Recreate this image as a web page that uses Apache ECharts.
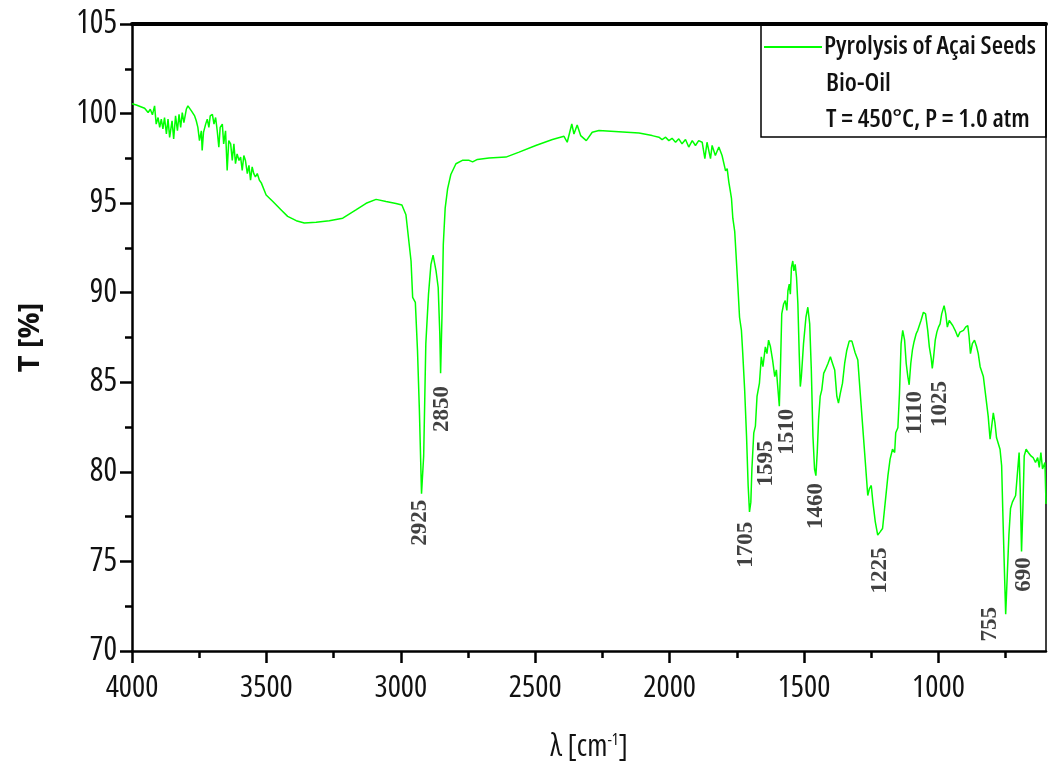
<!DOCTYPE html>
<html><head><meta charset="utf-8">
<script src="https://cdn.jsdelivr.net/npm/echarts@6/dist/echarts.min.js"></script>
<style>html,body{margin:0;padding:0;background:#fff}#c{width:1050px;height:767px}</style>
</head><body><div id="c"></div>
<script>
// FTIR spectrum: [wavenumber (cm-1), transmittance (%)]
const spectrum = [
[4000,100.55],[3984,100.48],[3965,100.37],[3953,100.30],[3940,100.06],[3932,100.24],[3924,99.93],[3916,100.43],[3910,99.41],[3903,99.78],[3897,99.23],[3891,99.69],[3885,99.14],[3879,99.78],[3872,98.86],[3866,99.69],[3860,98.67],[3851,99.60],[3845,98.58],[3838,99.87],[3831,99.04],[3825,99.96],[3819,99.23],[3813,100.06],[3807,99.50],[3798,100.24],[3792,100.43],[3786,100.33],[3779,100.15],[3773,100.24],[3767,99.87],[3761,99.60],[3755,99.23],[3749,98.49],[3742,99.04],[3739,97.94],[3734,98.95],[3726,99.41],[3720,99.69],[3714,99.23],[3709,99.87],[3701,99.96],[3695,99.41],[3689,99.78],[3683,99.04],[3677,98.12],[3672,99.23],[3664,99.41],[3659,98.31],[3652,99.04],[3646,96.83],[3640,98.49],[3633,98.31],[3627,97.38],[3621,98.31],[3615,97.20],[3609,97.75],[3602,97.38],[3596,97.57],[3590,96.83],[3584,97.66],[3578,97.38],[3571,96.65],[3565,97.11],[3559,96.28],[3553,97.02],[3547,96.65],[3541,96.46],[3534,96.65],[3526,96.28],[3519,96.13],[3501,95.45],[3476,95.09],[3445,94.62],[3421,94.26],[3389,94.02],[3359,93.89],[3315,93.94],[3266,94.02],[3216,94.16],[3167,94.62],[3129,94.99],[3092,95.21],[3055,95.09],[3018,94.98],[2996,94.9],[2981,94.35],[2962,91.77],[2956,89.74],[2946,89.46],[2938,86.79],[2931,83.47],[2923,78.78],[2915,80.89],[2907,87.16],[2897,89.92],[2888,91.58],[2880,92.10],[2869,91.22],[2861,90.29],[2855,87.71],[2852,85.5],[2847,88.63],[2842,92.69],[2835,94.72],[2826,95.8],[2814,96.6],[2795,97.2],[2771,97.39],[2746,97.39],[2733,97.30],[2715,97.44],[2672,97.52],[2609,97.57],[2560,97.85],[2498,98.22],[2436,98.55],[2393,98.73],[2381,98.40],[2364,99.42],[2356,98.86],[2344,99.36],[2331,98.77],[2310,98.49],[2288,98.96],[2263,99.05],[2189,98.99],[2114,98.92],[2065,98.77],[2040,98.68],[2028,98.55],[2015,98.68],[2003,98.49],[1991,98.62],[1978,98.40],[1966,98.59],[1954,98.31],[1941,98.55],[1929,98.13],[1916,98.49],[1904,98.22],[1892,98.49],[1879,98.40],[1869,97.48],[1861,98.40],[1848,97.48],[1842,98.22],[1830,97.66],[1817,98.13],[1805,97.66],[1792,96.8],[1786,96.93],[1780,96.19],[1774,95.64],[1770,95.27],[1765,94.16],[1758,93.43],[1753,92.13],[1746,90.29],[1740,88.63],[1733,87.90],[1728,86.60],[1721,84.58],[1714,82.0],[1708,79.24],[1703,77.76],[1698,78.31],[1694,80.16],[1687,82.18],[1681,82.55],[1675,84.21],[1666,84.95],[1659,86.42],[1653,85.87],[1644,86.98],[1638,86.60],[1632,87.35],[1625,86.98],[1617,86.24],[1609,85.32],[1603,85.69],[1597,84.58],[1592,83.66],[1588,85.69],[1583,88.82],[1576,89.37],[1570,89.56],[1564,89.01],[1560,90.11],[1555,90.48],[1551,89.92],[1547,91.40],[1542,91.77],[1538,91.22],[1533,91.58],[1528,90.85],[1523,89.37],[1518,86.60],[1514,84.76],[1510,85.32],[1502,87.16],[1493,88.63],[1486,89.19],[1479,88.26],[1473,85.69],[1467,82.0],[1461,80.16],[1456,79.79],[1451,81.08],[1446,82.92],[1440,84.21],[1434,84.58],[1427,85.50],[1421,85.69],[1411,86.05],[1402,86.42],[1394,86.05],[1386,85.69],[1378,84.21],[1372,83.84],[1365,84.39],[1357,84.95],[1349,86.05],[1341,86.79],[1332,87.3],[1322,87.3],[1310,86.65],[1300,86.24],[1291,84.39],[1282,82.55],[1272,80.52],[1263,78.68],[1257,79.05],[1250,79.24],[1244,78.31],[1235,77.21],[1226,76.47],[1217,76.65],[1208,76.84],[1198,78.31],[1188,79.79],[1180,80.71],[1171,81.26],[1163,81.08],[1159,82.18],[1151,82.46],[1145,84.39],[1139,87.16],[1133,87.90],[1126,87.35],[1120,86.05],[1114,85.32],[1109,84.86],[1103,86.05],[1097,86.79],[1091,87.25],[1083,87.71],[1077,87.90],[1071,87.99],[1065,88.45],[1056,88.91],[1048,88.82],[1040,87.90],[1034,86.98],[1027,86.33],[1023,85.78],[1018,86.42],[1012,87.35],[1006,87.80],[1000,88.08],[994,88.26],[988,88.82],[979,89.28],[973,88.82],[967,88.08],[960,88.45],[953,88.54],[947,88.17],[938,87.90],[928,87.53],[920,87.80],[907,87.90],[899,88.08],[891,88.17],[886,87.53],[881,86.60],[874,87.16],[866,87.35],[858,86.98],[852,86.60],[845,85.87],[839,85.96],[833,85.32],[827,84.58],[821,83.84],[815,83.10],[808,81.82],[802,82.55],[796,83.29],[790,82.74],[784,81.90],[777,81.82],[771,81.26],[765,80.34],[761,77.95],[756,75.18],[750,72.05],[744,74.26],[738,76.47],[732,77.95],[725,78.31],[719,78.22],[713,78.68],[707,79.79],[700,81.08],[696,79.05],[691,75.55],[686,77.95],[681,80.89],[674,81.26],[666,81.08],[656,80.89],[648,80.80],[639,80.52],[631,80.80],[625,80.25],[619,81.08],[613,80.16],[604,80.52],[600,78.2]
];
const seriesName = 'Pyrolysis of Açai Seeds';
const legendLines = ['Bio-Oil', 'T = 450°C, P = 1.0 atm'];
// peak annotations: text, wavenumber of label, transmittance at top of label
const peakLabels = ['2925','2850','1705','1595','1510','1460','1225','1110','1025','755','690'];
const peakLabelX = [2925,2843,1713,1638,1560,1452,1217,1087,994,808,678];
const peakLabelTop = [78.41,84.76,77.19,81.72,83.49,79.35,75.75,84.49,85.04,72.43,75.20];
const xMajorTicks = [4000,3500,3000,2500,2000,1500,1000];
const xMinorTicks = [3750,3250,2750,2250,1750,1250,750];
const xRange = [600, 4000];
const yRange = [70, 105];
const yStep = 5;

const SANS = '"Open Sans","Noto Sans",sans-serif';
const chart = echarts.init(document.getElementById('c'));
const black = '#000';
const annData = peakLabels.map((t, i) => ({ name: t, value: [peakLabelX[i], peakLabelTop[i]] }));

chart.setOption({
  animation: false,
  backgroundColor: '#fff',
  grid: { left: 132, right: 4, top: 24, bottom: 110, containLabel: false },
  legend: {
    data: [seriesName], left: 764, top: 34, itemWidth: 58, itemHeight: 2, icon: 'rect', padding: 0,
    itemStyle: { color: '#00ff00' },
    textStyle: { fontFamily: SANS, fontSize: 26, fontWeight: '600 condensed', color: '#111', padding: [0,0,0,-3] }
  },
  graphic: [
    { type: 'rect', shape: { x: 761, y: 25, width: 285, height: 112 }, style: { fill: 'none', stroke: black, lineWidth: 1.5 }, z: 10 },
    { type: 'text', left: 826, top: 71, style: { text: legendLines[0], font: '600 condensed 26px ' + SANS, fill: '#111' }, z: 10 },
    { type: 'text', left: 826, top: 107, style: { text: legendLines[1], font: '600 condensed 26px ' + SANS, fill: '#111' }, z: 10 }
  ],
  xAxis: [
    {
      type: 'value', min: xRange[0], max: xRange[1], inverse: true, position: 'bottom',
      axisLine: { show: true, lineStyle: { color: black, width: 2.5 } },
      axisTick: { show: true, customValues: xMajorTicks, length: 12, lineStyle: { color: black, width: 2.5 } },
      axisLabel: { customValues: xMajorTicks, formatter: v => String(v), fontFamily: SANS, fontWeight: '500 condensed', fontSize: 31, color: '#111', margin: 22 },
      splitLine: { show: false },
      name: '{a|λ [cm}{s|-1}{a|]}', nameLocation: 'middle', nameGap: 81,
      nameTextStyle: { rich: {
        a: { fontFamily: SANS, fontWeight: 'condensed', fontSize: 30, color: '#111' },
        s: { fontFamily: SANS, fontWeight: 'condensed', fontSize: 16, color: '#111', verticalAlign: 'top', padding: [0,0,14,0] } } }
    },
    {
      type: 'value', min: xRange[0], max: xRange[1], inverse: true, position: 'bottom',
      axisLine: { show: false },
      axisTick: { show: true, customValues: xMinorTicks, length: 7, lineStyle: { color: black, width: 2.5 } },
      axisLabel: { show: false }, splitLine: { show: false }
    },
    {
      type: 'value', min: xRange[0], max: xRange[1], inverse: true, position: 'top',
      axisLine: { show: true, lineStyle: { color: black, width: 4 } },
      axisTick: { show: false }, axisLabel: { show: false }, splitLine: { show: false }
    }
  ],
  yAxis: [
    {
      type: 'value', min: yRange[0], max: yRange[1], interval: yStep, position: 'left',
      axisLine: { show: true, lineStyle: { color: black, width: 2.5 } },
      axisTick: { show: true, length: 12, lineStyle: { color: black, width: 2.5 } },
      minorTick: { show: true, splitNumber: 2, length: 7, lineStyle: { color: black, width: 2.5 } },
      axisLabel: { fontFamily: SANS, fontWeight: '500 condensed', fontSize: 32, color: '#111', margin: 15 },
      splitLine: { show: false }, minorSplitLine: { show: false },
      name: 'T [%]', nameLocation: 'middle', nameGap: 87, nameRotate: 90,
      nameTextStyle: { fontFamily: SANS, fontSize: 29, fontWeight: 'bold', color: '#111' }
    },
    {
      type: 'value', min: yRange[0], max: yRange[1], position: 'right',
      axisLine: { show: true, lineStyle: { color: black, width: 1.5 } },
      axisTick: { show: false }, axisLabel: { show: false }, splitLine: { show: false }
    }
  ],
  series: [
    {
      name: seriesName, type: 'line', data: spectrum, xAxisIndex: 0, yAxisIndex: 0,
      symbol: 'none', showSymbol: false, color: '#00ff00',
      lineStyle: { color: '#00ff00', width: 1.5 }, z: 3
    },
    {
      name: 'peaks', type: 'scatter', data: annData, xAxisIndex: 0, yAxisIndex: 0,
      symbol: 'circle', symbolSize: 1, itemStyle: { color: 'rgba(0,0,0,0)' }, silent: true,
      label: {
        show: true, position: [0, 0], formatter: '{b}', rotate: 90, align: 'right', verticalAlign: 'middle',
        fontFamily: '"Liberation Serif","Times New Roman",serif', fontWeight: 'bold', fontSize: 23, color: '#111'
      }, z: 4
    }
  ]
});
</script></body></html>
